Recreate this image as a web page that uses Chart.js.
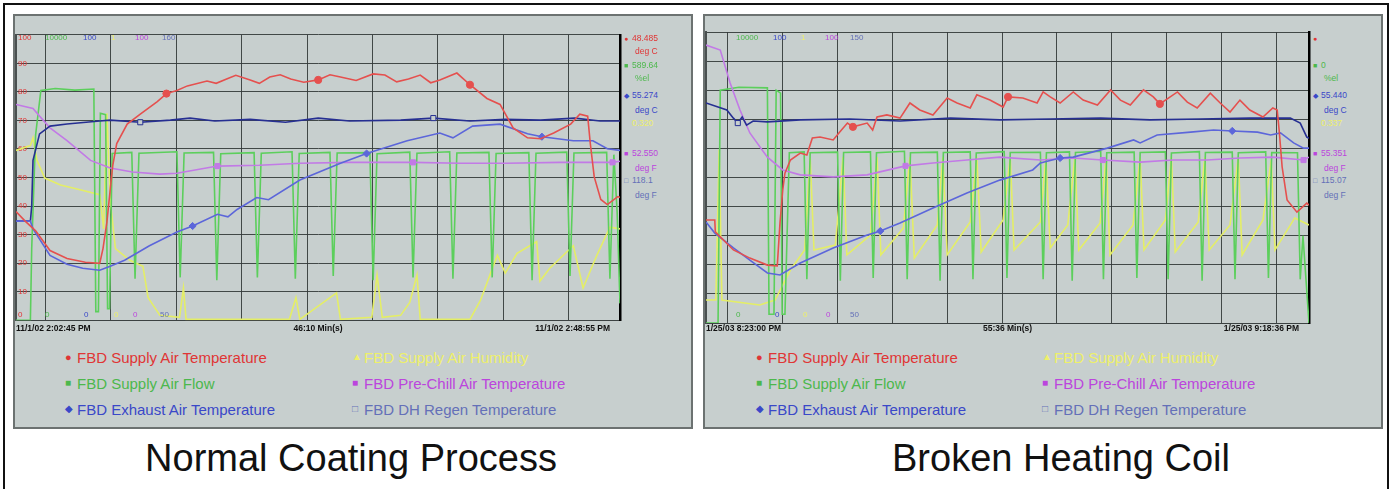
<!DOCTYPE html>
<html>
<head>
<meta charset="utf-8">
<script src="https://cdn.jsdelivr.net/npm/chart.js@4.4.1/dist/chart.umd.min.js"></script>
<style>
  body { margin: 0; width: 1390px; height: 489px; background: #fff; position: relative; overflow: hidden;
         font-family: "Liberation Sans", Arial, sans-serif; }
  .frame { position: absolute; left: 3px; top: 3px; width: 1382px; height: 520px; border: 2px solid #111; }
  .panel { position: absolute; top: 14px; height: 411px; background: #c7cfce; border: 2px solid #6c7271; }
  canvas { position: absolute; z-index: 1; }
  .lbl { position: absolute; white-space: nowrap; line-height: 1; z-index: 2; transform: translateY(-50%); }
  .caption { position: absolute; top: 436px; font-size: 38px; line-height: 44px; color: #111;
             transform: translateX(-50%); white-space: nowrap; }
</style>
</head>
<body>
<div class="frame"></div>
<div class="panel" style="left:13px;width:676px"></div>
<div class="panel" style="left:703px;width:676px"></div>
<div class="caption" style="left:351px">Normal Coating Process</div>
<div class="caption" style="left:1061px">Broken Heating Coil</div>
<script>
// ---- data: [minutes from start, value] ----
// Normal coating process, 11/1/02 2:02:45 PM .. 2:48:55 PM
const normalSupplyTemp = [[0,38.1],[0.7,34.7],[1.5,31.3],[2.6,24.4],[3.9,21.6],[5.3,20.3],[6.4,19.9],[6.65,25.1],[6.95,34.4],[7.2,45.7],[7.4,54.3],[7.7,61.9],[8.5,68.7],[9.5,72.2],[10.8,76.6],[11.5,79.4],[12.3,80.5],[13.1,82.1],[14.6,83.8],[15.3,83.0],[16.1,84.5],[16.8,85.8],[17.9,84.2],[18.6,83.0],[19.4,85.2],[20.2,86.0],[21.0,84.5],[22.0,83.4],[23.1,84.2],[24.0,86.0],[24.8,85.2],[26.0,84.0],[27.3,86.3],[28.2,85.9],[29.1,83.5],[30.0,84.5],[30.9,85.9],[31.7,83.2],[32.4,84.2],[33.7,86.6],[34.7,82.5],[36.0,77.7],[37.0,75.6],[38.0,67.4],[39.1,63.9],[40.1,63.6],[41.1,65.6],[42.4,68.7],[43.1,72.2],[43.7,71.5],[43.9,61.9],[44.2,50.2],[44.7,42.3],[45.2,40.5],[46.0,43.3],[46.17,43.0]];
const normalFlow = [[0,0],[1.1,0],[1.2,2500],[1.5,6500],[1.9,8050],[3.0,8120],[4.5,8060],[5.95,8100],[6.1,300],[6.3,300],[6.45,7250],[6.85,7200],[7.0,400],[7.15,400],[7.35,5840],[8.85,5880],[9.1,1450],[9.4,5850],[12.3,5900],[12.55,1500],[12.85,5860],[15.1,5880],[15.35,1400],[15.65,5830],[18.2,5870],[18.45,1500],[18.75,5850],[21.1,5900],[21.35,1450],[21.65,5840],[24.0,5880],[24.25,1550],[24.55,5860],[27.05,5870],[27.3,1400],[27.6,5830],[30.1,5890],[30.35,1500],[30.65,5850],[33.15,5900],[33.4,1450],[33.7,5860],[36.15,5880],[36.4,1500],[36.7,5840],[39.2,5870],[39.45,1400],[39.75,5850],[42.1,5890],[42.35,1550],[42.65,5860],[45.15,5880],[45.4,1450],[45.7,5800],[45.95,3800],[46.17,590]];
const normalExhaust = [[0,34.7],[1.1,34.7],[1.3,32.0],[2.6,22.7],[3.9,19.6],[5.1,18.2],[6.4,17.5],[7.2,18.9],[8.3,21.0],[10.2,26.1],[12.3,30.9],[13.5,33.0],[15.4,37.1],[16.2,36.2],[16.9,38.8],[18.4,43.0],[19.3,42.2],[21.7,49.1],[24.8,55.0],[26.8,58.4],[29.9,62.9],[32.4,65.6],[33.4,63.9],[34.9,68.0],[37.0,68.7],[39.1,65.3],[40.2,64.3],[42.6,62.9],[44.1,62.9],[45.2,60.1],[46.17,59.5]];
const normalHumidity = [[0,0.595],[1.1,0.612],[1.3,0.639],[1.6,0.56],[2.2,0.498],[3.4,0.474],[4.9,0.457],[6.4,0.44],[6.7,0.32],[6.95,0.725],[7.2,0.423],[7.6,0.251],[8.7,0.21],[9.7,0.189],[10.1,0.079],[11.0,0.017],[12.5,0.01],[12.8,0.113],[13.0,0.003],[20.9,0.003],[21.4,0.079],[21.7,0.003],[24.5,0.096],[24.8,0.003],[27.2,0.01],[27.6,0.158],[28.0,0.01],[29.4,0.017],[30.1,0.062],[30.65,0.158],[30.9,0.003],[34.7,0.003],[35.5,0.069],[36.5,0.192],[36.8,0.227],[37.4,0.165],[38.3,0.234],[39.8,0.275],[40.05,0.137],[40.8,0.182],[42.6,0.261],[43.35,0.113],[44.4,0.227],[45.4,0.326],[46.17,0.32]];
const normalPreChill = [[0,75.6],[1.3,74.2],[1.8,71.5],[2.6,67.4],[3.9,62.9],[5.7,56.0],[7.2,53.3],[8.9,51.9],[11.0,51.2],[12.3,51.5],[15.4,54.0],[18.6,54.3],[21.7,55.0],[25.5,55.3],[30.35,55.3],[33.9,55.0],[37.5,55.0],[41.6,55.3],[45.6,55.3],[46.17,55.7]];
const normalRegen = [[0,88.2],[1.1,88.2],[1.2,93.9],[1.3,111.6],[1.8,121.8],[2.6,124.8],[3.9,125.6],[6.4,126.8],[7.2,127.1],[9.5,126.3],[11.8,127.1],[13.3,127.9],[15.2,126.8],[17.9,127.4],[20.6,126.3],[23.1,127.9],[25.5,126.8],[29.4,127.1],[31.9,127.9],[34.7,126.8],[37.4,127.4],[40.1,127.1],[42.7,127.9],[44.65,126.8],[46.17,126.8]];

// Broken heating coil, 1/25/03 8:23:00 PM .. 9:18 PM
const brokenSupplyTemp = [[0,35.4],[0.8,35.4],[0.85,31.3],[2.5,25.1],[4.0,22.3],[5.6,19.9],[6.5,19.6],[6.75,34.4],[7.0,45.7],[7.2,51.5],[7.7,56.0],[8.6,58.4],[9.2,57.7],[9.7,63.6],[10.4,63.9],[11.6,62.9],[12.2,65.6],[12.9,68.7],[13.4,67.4],[14.7,68.7],[15.2,66.3],[15.6,70.8],[16.5,71.5],[17.7,70.4],[18.6,75.6],[19.5,73.2],[20.7,71.5],[22.0,77.3],[22.9,75.6],[24.1,73.9],[24.7,78.4],[25.9,76.6],[27.1,74.2],[27.55,77.7],[28.9,77.3],[30.2,75.6],[30.75,79.4],[31.4,77.7],[32.3,75.6],[33.5,79.4],[34.4,76.6],[35.7,74.9],[36.9,80.1],[37.8,76.6],[38.7,74.9],[39.9,80.1],[40.8,77.7],[41.4,75.3],[43.0,79.4],[43.9,75.9],[44.8,73.9],[46.0,79.0],[46.9,75.6],[47.8,72.5],[48.7,76.6],[49.6,73.2],[50.8,70.8],[51.7,73.9],[52.1,73.2],[52.3,65.3],[52.55,53.6],[53.0,42.3],[53.9,38.1],[54.8,41.2],[55.0,40.5]];
const brokenFlow = [[0,0],[1.1,0],[1.3,8000],[3.0,8100],[5.6,8080],[5.75,300],[6.2,300],[6.4,8000],[6.8,7900],[6.95,300],[7.2,300],[7.6,5850],[8.95,5880],[9.2,1500],[9.5,5850],[12.0,5870],[12.25,1450],[12.55,5860],[15.0,5880],[15.25,1550],[15.55,5850],[18.1,5900],[18.35,1500],[18.65,5850],[21.1,5870],[21.35,1450],[21.65,5860],[24.1,5880],[24.35,1500],[24.65,5840],[27.2,5890],[27.45,1550],[27.75,5860],[30.5,5870],[30.75,1500],[31.05,5850],[33.15,5880],[33.4,1450],[33.7,5860],[36.0,5900],[36.25,1500],[36.55,5850],[39.05,5870],[39.3,1550],[39.6,5860],[41.9,5880],[42.15,1500],[42.45,5840],[45.0,5890],[45.25,1450],[45.55,5860],[48.0,5870],[48.25,1500],[48.55,5850],[51.05,5880],[51.3,1550],[51.6,5860],[53.95,5850],[54.2,1500],[54.45,3000],[55.0,0]];
const brokenExhaust = [[0,34.7],[0.8,30.9],[2.5,25.8],[4.0,21.6],[5.6,17.2],[6.75,16.5],[8.6,20.6],[11.6,25.8],[14.7,30.2],[15.9,31.6],[17.7,34.4],[20.7,39.5],[23.8,44.7],[26.8,49.1],[29.8,52.6],[30.5,55.0],[32.3,56.7],[33.5,57.0],[36.6,60.1],[39.0,62.9],[39.6,61.9],[41.15,64.6],[44.2,65.6],[46.3,66.3],[48.0,66.0],[50.3,65.6],[51.5,64.6],[52.4,65.3],[53.6,61.9],[54.5,60.1],[55.0,60.1]];
const brokenHumidity = [[0,0.079],[0.9,0.079],[1.2,0.595],[1.45,0.079],[4.9,0.062],[6.3,0.079],[7.7,0.182],[9.0,0.251],[9.5,0.57],[9.85,0.251],[11.8,0.268],[12.5,0.57],[12.85,0.234],[15.0,0.302],[15.6,0.57],[15.95,0.234],[18.0,0.326],[18.6,0.57],[19.0,0.223],[21.1,0.337],[21.6,0.57],[22.0,0.234],[24.1,0.347],[24.7,0.57],[25.1,0.244],[27.1,0.354],[27.75,0.57],[28.1,0.251],[30.5,0.347],[31.0,0.57],[31.4,0.258],[33.0,0.337],[33.65,0.57],[34.0,0.251],[35.95,0.344],[36.5,0.57],[36.85,0.234],[38.95,0.337],[39.6,0.57],[39.95,0.251],[41.9,0.354],[42.45,0.57],[42.8,0.244],[44.9,0.347],[45.5,0.57],[45.9,0.251],[47.8,0.337],[48.55,0.57],[48.9,0.234],[50.8,0.354],[51.55,0.56],[51.9,0.251],[53.7,0.361],[55.0,0.337]];
const brokenPreChill = [[0,95.5],[1.3,93.8],[2.2,82.5],[3.1,73.2],[4.0,65.3],[5.6,57.0],[7.0,52.6],[8.6,50.9],[11.6,50.2],[14.7,50.9],[18.2,54.0],[20.7,55.0],[23.8,56.0],[26.8,57.0],[30.5,56.0],[33.5,56.7],[36.2,56.0],[39.6,55.3],[42.6,56.0],[45.7,56.0],[48.7,56.7],[51.7,57.0],[54.5,56.0],[55.0,57.0]];
const brokenRegen = [[0,125.6],[1.9,123.2],[2.5,120.4],[2.9,118.7],[3.3,120.8],[3.7,118.0],[4.3,119.4],[5.6,119.1],[8.6,119.8],[13.1,120.1],[17.7,119.4],[22.3,120.4],[26.8,119.8],[31.4,120.1],[36.0,120.4],[40.5,119.8],[45.1,120.1],[49.6,120.4],[53.3,120.4],[54.2,118.7],[54.8,113.9],[55.0,113.5]];

// marker times (minutes) on each trace
const normalMarks = { temp: [11.5, 23.1, 34.7], exhaust: [13.5, 26.8, 40.2], preChill: [15.4, 30.35, 45.6], regen: [9.5, 31.9] };
const brokenMarks = { temp: [13.4, 27.55, 41.4], exhaust: [15.9, 32.3, 48.0], preChill: [18.2, 36.2, 54.5], regen: [2.9] };

// axes
const normalSpan = 46.17, brokenSpan = 55.0;
const normalGridMinutes = [2.25, 7.25, 12.25, 17.25, 22.25, 27.25, 32.25, 37.25, 42.25];
const brokenGridMinutes = [2, 7, 12, 17, 22, 27, 32, 37, 42, 47, 52];
const tempTicks = [0, 10, 20, 30, 40, 50, 60, 70, 80, 90, 100];

// text
const seriesNames = ['FBD Supply Air Temperature', 'FBD Supply Air Flow', 'FBD Exhaust Air Temperature',
                     'FBD Supply Air Humidity', 'FBD Pre-Chill Air Temperature', 'FBD DH Regen Temperature'];
const normalTimeLabels = ['11/1/02 2:02:45 PM', '46:10 Min(s)', '11/1/02 2:48:55 PM'];
const brokenTimeLabels = ['1/25/03 8:23:00 PM', '55:36 Min(s)', '1/25/03 9:18:36 PM'];
const normalScaleTop = ['100', '10000', '100', '1', '100', '160'];
const normalScaleBottom = ['0', '0', '0', '0', '0', '50'];
const brokenScaleTop = ['', '10000', '100', '1', '100', '150'];
const brokenScaleBottom = ['', '0', '0', '0', '0', '50'];
const normalReadout = [['48.485', 'deg C'], ['589.64', '%el'], ['55.274', 'deg C'], ['0.320', ''], ['52.550', 'deg F'], ['118.1', 'deg F']];
const brokenReadout = [['', ''], ['0', '%el'], ['55.440', 'deg C'], ['0.337', ''], ['55.351', 'deg F'], ['115.07', 'deg F']];

// ---- styles ----
const lineColors = ['#e5504e', '#5ccf5c', '#5c66da', '#e4ee66', '#c27ae6', '#262f92'];
const textColors = ['#e03535', '#4cb84c', '#3a48c8', '#eef06a', '#bb45dd', '#6470b8'];
const markGlyphs = ['●', '■', '◆', '▲', '■', '□'];
const gridColor = 'rgba(50,56,56,0.9)';
const panelBg = '#c7cfce';

function label(text, x, y, css) {
    const d = document.createElement('div');
    d.className = 'lbl';
    d.textContent = text;
    d.style.left = x + 'px';
    d.style.top = y + 'px';
    Object.assign(d.style, css || {});
    document.body.appendChild(d);
    return d;
}

function trace(name, pairs, color, axis, style, marks, hollow) {
    return {
        label: name,
        data: pairs.map(p => ({ x: p[0], y: p[1] })),
        yAxisID: axis,
        borderColor: color,
        backgroundColor: hollow ? panelBg : color,
        borderWidth: 1.6,
        tension: 0,
        fill: false,
        pointStyle: style,
        pointBorderWidth: 1,
        pointRadius: ctx => (ctx.raw && marks && marks.includes(ctx.raw.x)) ? 3.6 : 0,
        pointHoverRadius: 0
    };
}

function drawPanel(p) {
    const pad = 4;
    const w = p.right - p.left + 2 * pad, h = p.bottom - p.top + 2 * pad;
    const canvas = document.createElement('canvas');
    canvas.width = w; canvas.height = h;
    canvas.style.width = w + 'px'; canvas.style.height = h + 'px';
    canvas.style.left = (p.left - pad) + 'px';
    canvas.style.top = (p.top - pad) + 'px';
    document.body.appendChild(canvas);

    const s = p.series;
    const datasets = [
        trace(seriesNames[0], s.temp, lineColors[0], 'y', 'circle', p.marks.temp),
        trace(seriesNames[2], s.exhaust, lineColors[2], 'y', 'rectRot', p.marks.exhaust),
        trace(seriesNames[5], s.regen, lineColors[5], 'yRegen', 'rect', p.marks.regen, true),
        trace(seriesNames[4], s.preChill, lineColors[4], 'y', 'rect', p.marks.preChill),
        trace(seriesNames[1], s.flow, lineColors[1], 'yFlow', 'rect', null),
        trace(seriesNames[3], s.humidity, lineColors[3], 'yHum', 'triangle', null)
    ];

    new Chart(canvas, {
        type: 'line',
        data: { datasets },
        options: {
            responsive: false,
            animation: false,
            events: [],
            layout: { padding: pad },
            plugins: { legend: { display: false }, tooltip: { enabled: false } },
            scales: {
                x: {
                    type: 'linear', min: 0, max: p.span,
                    afterBuildTicks: sc => { sc.ticks = p.grid.map(v => ({ value: v })); },
                    afterFit: sc => { sc.height = 0; },
                    ticks: { display: false },
                    grid: { color: gridColor, lineWidth: 1, drawTicks: false },
                    border: { display: true, color: '#3c4242', width: 1 }
                },
                y: {
                    min: 0, max: 100,
                    afterBuildTicks: sc => { sc.ticks = tempTicks.map(v => ({ value: v })); },
                    afterFit: sc => { sc.width = 0; },
                    ticks: {
                        display: p.tempLabels, mirror: true, padding: 2, color: textColors[0],
                        font: { size: 8, family: 'Liberation Sans' },
                        callback: v => (v > 0 && v < 100) ? String(v) : ''
                    },
                    grid: { color: gridColor, lineWidth: 1, drawTicks: false },
                    border: { display: true, color: '#4a5050', width: 2 }
                },
                yFlow: { display: false, min: 0, max: 10000 },
                yHum: { display: false, min: 0, max: 1 },
                yRegen: {
                    position: 'right', min: p.regenMin, max: p.regenMax,
                    afterFit: sc => { sc.width = 0; },
                    ticks: { display: false },
                    grid: { display: false, drawTicks: false },
                    border: { display: true, color: '#000', width: 2.5 }
                }
            }
        }
    });

    // series scale limits, top and bottom rows inside the plot
    const small = { fontSize: '8px' };
    p.scaleTop.forEach((t, i) => { if (t) label(t, p.topX[i], p.top + 6, Object.assign({ color: textColors[i] }, small)); });
    p.scaleBottom.forEach((t, i) => { if (t) label(t, p.bottomX[i], p.bottom - 8, Object.assign({ color: textColors[i] }, small)); });

    // current value readouts right of the plot
    const rowY = [[38, 51], [65, 78], [95, 110], [123, 123], [153, 168], [180, 195]];
    p.readout.forEach((r, i) => {
        const c = textColors[i];
        if (i !== 3) label(markGlyphs[i], p.right + 4, rowY[i][0], { color: c, fontSize: '7px' });
        if (r[0]) label(r[0], p.right + 12, rowY[i][0], { color: c, fontSize: '8.5px' });
        if (r[1]) label(r[1], p.right + 15, rowY[i][1], { color: c, fontSize: '8.5px' });
    });

    // time labels under the plot
    const tl = { color: '#111', fontSize: '8.5px', fontWeight: 'bold' };
    label(p.times[0], p.left, p.bottom + 5, tl);
    const mid = label(p.times[1], (p.left + p.right) / 2, p.bottom + 5, tl);
    mid.style.transform = 'translate(-50%,-50%)';
    const end = label(p.times[2], p.right - 10, p.bottom + 5, tl);
    end.style.transform = 'translate(-100%,-50%)';

    // legend, two columns of three
    const rowsY = [357, 383, 409];
    [0, 1, 2, 3, 4, 5].forEach(i => {
        const col = i < 3 ? 0 : 1, row = i % 3;
        const mx = p.legendX[col];
        label(markGlyphs[i], mx, rowsY[row], { color: textColors[i], fontSize: i === 0 ? '11px' : '10px' });
        label(seriesNames[i], mx + 12, rowsY[row], { color: textColors[i], fontSize: '15px' });
    });
}

drawPanel({
    left: 16, right: 620, top: 32, bottom: 323,
    span: normalSpan, grid: normalGridMinutes, regenMin: 50, regenMax: 160, tempLabels: true,
    series: { temp: normalSupplyTemp, flow: normalFlow, exhaust: normalExhaust, humidity: normalHumidity, preChill: normalPreChill, regen: normalRegen },
    marks: normalMarks,
    scaleTop: normalScaleTop, scaleBottom: normalScaleBottom,
    topX: [18, 45, 83, 111, 135, 162], bottomX: [18, 45, 84, 114, 133, 160],
    readout: normalReadout, times: normalTimeLabels, legendX: [65, 352]
});

drawPanel({
    left: 706, right: 1309, top: 32, bottom: 323,
    span: brokenSpan, grid: brokenGridMinutes, regenMin: 50, regenMax: 150, tempLabels: false,
    series: { temp: brokenSupplyTemp, flow: brokenFlow, exhaust: brokenExhaust, humidity: brokenHumidity, preChill: brokenPreChill, regen: brokenRegen },
    marks: brokenMarks,
    scaleTop: brokenScaleTop, scaleBottom: brokenScaleBottom,
    topX: [0, 736, 773, 801, 825, 850], bottomX: [0, 736, 775, 803, 826, 850],
    readout: brokenReadout, times: brokenTimeLabels, legendX: [756, 1042]
});
</script>
</body>
</html>
